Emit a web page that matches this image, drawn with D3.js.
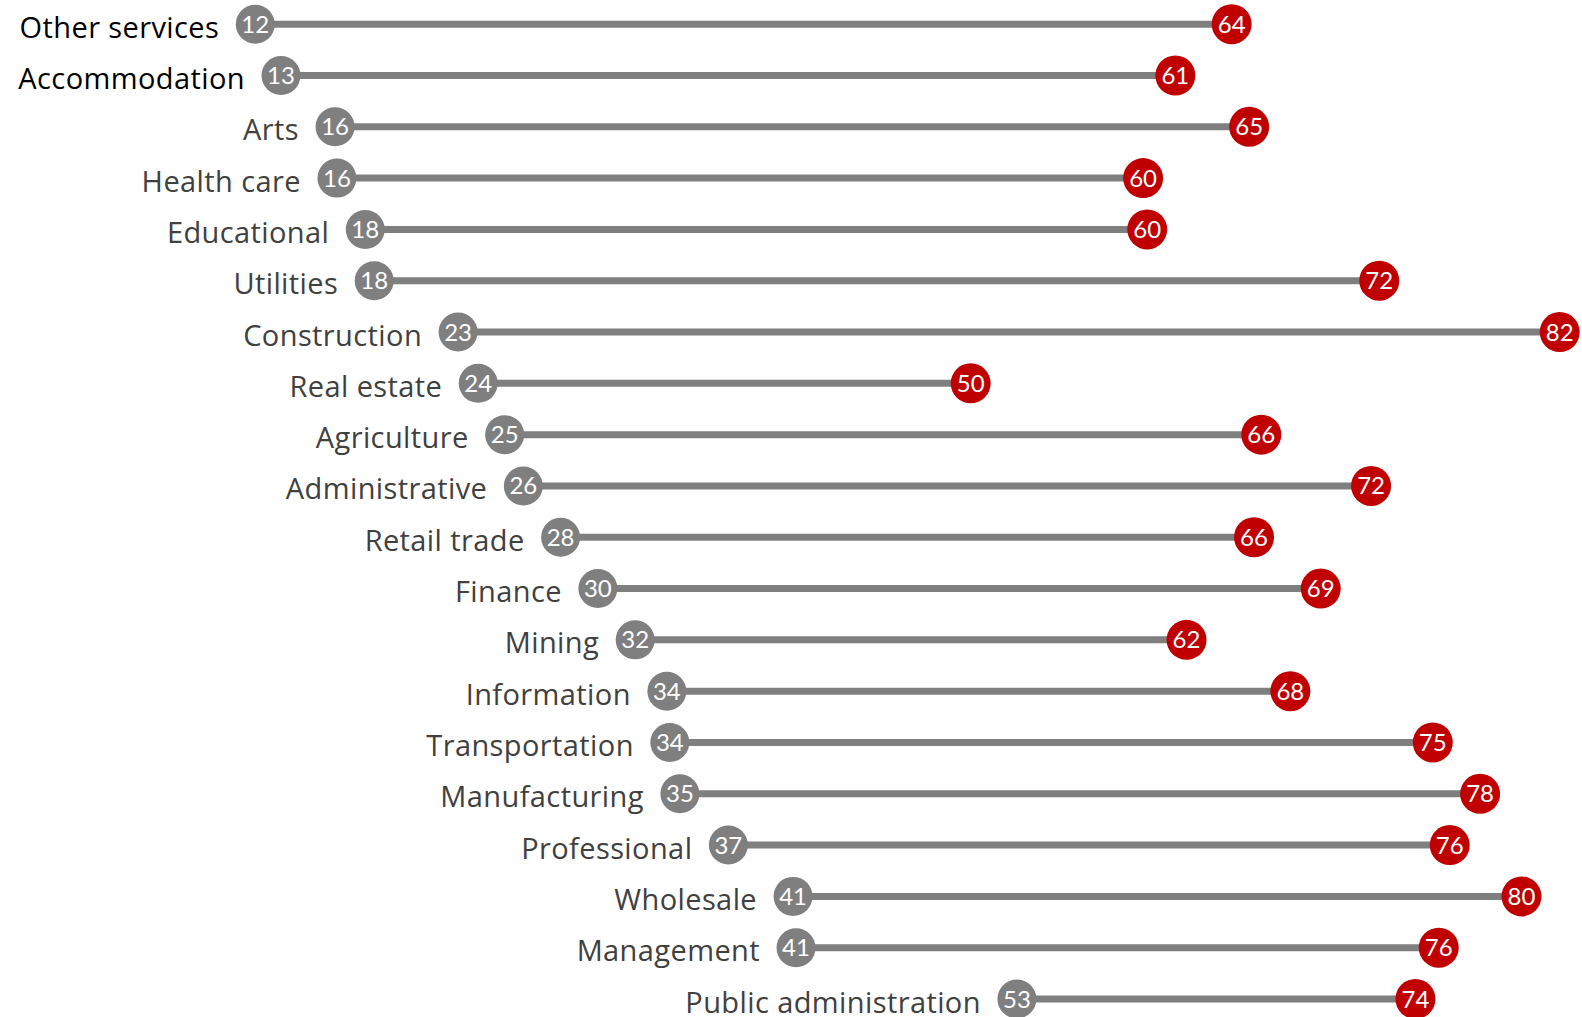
<!DOCTYPE html>
<html>
<head>
<meta charset="utf-8">
<script src="https://cdn.jsdelivr.net/npm/d3@7"></script>
<style>
  html, body { margin: 0; padding: 0; background: #fff; }
  svg { display: block; }
</style>
</head>
<body>
<svg id="chart" width="1582" height="1017"></svg>
<script>
const categories = ["Other services","Accommodation","Arts","Health care","Educational","Utilities","Construction","Real estate","Agriculture","Administrative","Retail trade","Finance","Mining","Information","Transportation","Manufacturing","Professional","Wholesale","Management","Public administration"];
const startValues = [12.07,13.45,16.35,16.45,17.97,18.45,22.95,24.03,25.45,26.45,28.45,30.45,32.45,34.15,34.31,34.85,37.45,40.92,41.08,52.93];
const endValues = [64.45,61.43,65.39,59.7,59.92,72.37,82.05,50.45,66.04,71.93,65.65,69.23,62.03,67.6,75.24,77.78,76.15,80.0,75.56,74.31];
const blackLabels = ["Other services","Accommodation"];

const data = categories.map((c, i) => ({ cat: c, s: startValues[i], e: endValues[i] }));

const svg = d3.select("#chart");
const x = d3.scaleLinear().domain([0, 100]).range([30.3, 30.3 + 1864]);
const y = d3.scalePoint().domain(categories).range([24.2, 999]);

const GRAY = "#7f7f7f", RED = "#c00000";
const R = 19.5;

const g = svg.append("g");

const rows = g.selectAll("g.row").data(data).join("g").attr("class", "row");

rows.append("line")
  .attr("x1", d => x(d.s)).attr("x2", d => x(d.e))
  .attr("y1", d => y(d.cat)).attr("y2", d => y(d.cat))
  .attr("stroke", GRAY).attr("stroke-width", 7);

rows.append("circle")
  .attr("cx", d => x(d.s)).attr("cy", d => y(d.cat)).attr("r", R)
  .attr("fill", GRAY);

rows.append("circle")
  .attr("cx", d => x(d.e)).attr("cy", d => y(d.cat)).attr("r", R + 0.5)
  .attr("fill", RED);

const numFont = "Lato, 'Open Sans', sans-serif";
const labelFont = "'Open Sans', Lato, sans-serif";

rows.append("text")
  .attr("x", d => x(d.s)).attr("y", d => y(d.cat) - 1)
  .attr("text-anchor", "middle").attr("dominant-baseline", "central")
  .attr("fill", "#fff").attr("font-family", numFont).attr("font-size", 24)
  .text(d => Math.round(d.s));

rows.append("text")
  .attr("x", d => x(d.e)).attr("y", d => y(d.cat) - 1)
  .attr("text-anchor", "middle").attr("dominant-baseline", "central")
  .attr("fill", "#fff").attr("font-family", numFont).attr("font-size", 24)
  .text(d => Math.round(d.e));

rows.append("text")
  .attr("x", d => x(d.s) - 36).attr("y", d => y(d.cat) + 2)
  .attr("text-anchor", "end").attr("dominant-baseline", "central")
  .attr("fill", d => blackLabels.includes(d.cat) ? "#000" : "#404040")
  .attr("font-family", labelFont).attr("font-size", 29)
  .attr("letter-spacing", 0.4)
  .text(d => d.cat);
</script>
</body>
</html>
